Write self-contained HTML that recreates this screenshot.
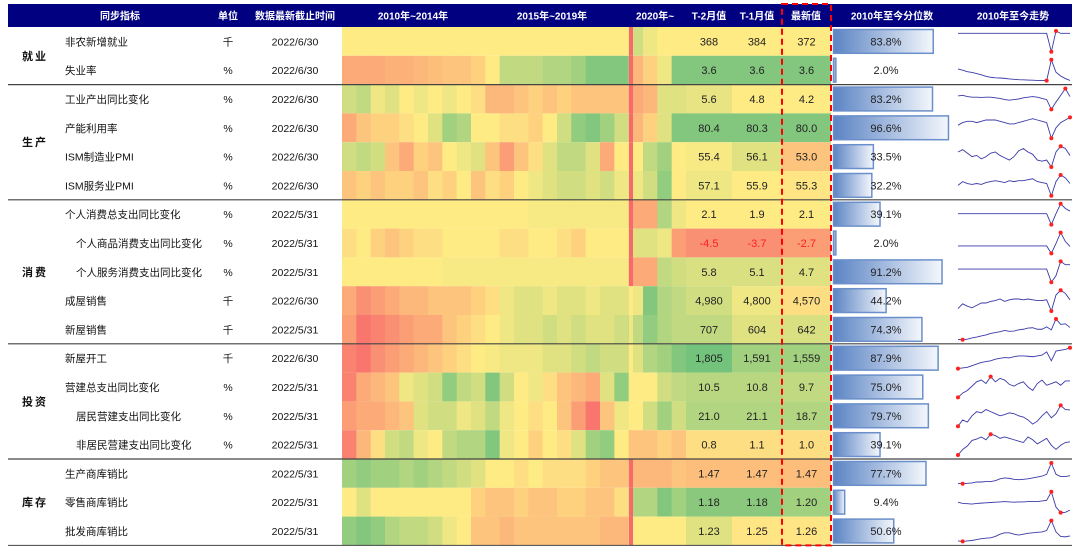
<!DOCTYPE html>
<html><head><meta charset="utf-8">
<style>
body{margin:0;background:#fff;width:1080px;height:550px;overflow:hidden;font-family:"Liberation Sans","Noto Sans CJK SC",sans-serif;}
svg text{font-family:"Liberation Sans","Noto Sans CJK SC",sans-serif;}
</style></head><body>
<svg id="chart" width="1080" height="550" xmlns="http://www.w3.org/2000/svg"></svg>
<script>
const groups=[["就业",0,2],["生产",2,6],["消费",6,11],["投资",11,15],["库存",15,18]];
const names=["非农新增就业","失业率","工业产出同比变化","产能利用率","ISM制造业PMI","ISM服务业PMI","个人消费总支出同比变化","个人商品消费支出同比变化","个人服务消费支出同比变化","成屋销售","新屋销售","新屋开工","营建总支出同比变化","居民营建支出同比变化","非居民营建支出同比变化","生产商库销比","零售商库销比","批发商库销比"];
const indent=[0,0,0,0,0,0,0,1,1,0,0,0,0,1,1,0,0,0];
const units=["千","%","%","%","%","%","%","%","%","千","千","千","%","%","%","","",""];
const dates=["2022/6/30","2022/6/30","2022/6/30","2022/6/30","2022/6/30","2022/6/30","2022/5/31","2022/5/31","2022/5/31","2022/6/30","2022/5/31","2022/6/30","2022/5/31","2022/5/31","2022/5/31","2022/5/31","2022/5/31","2022/5/31"];
const t2=["368","3.6","5.6","80.4","55.4","57.1","2.1","-4.5","5.8","4,980","707","1,805","10.5","21.0","0.8","1.47","1.18","1.23"];
const t1=["384","3.6","4.8","80.3","56.1","55.9","1.9","-3.7","5.1","4,800","604","1,591","10.8","21.1","1.1","1.47","1.18","1.25"];
const latest=["372","3.6","4.2","80.0","53.0","55.3","2.1","-2.7","4.7","4,570","642","1,559","9.7","18.7","1.0","1.47","1.20","1.26"];
const t2c=[0,0.8,0.15,0.8,0.05,0.1,0,-0.7,0.25,0.3,0.4,0.9,0.45,0.5,-0.1,-0.35,0.75,0.2];
const t1c=[0,0.8,0,0.8,0.2,0,0,-0.7,0.25,0.1,0.2,0.6,0.45,0.5,-0.1,-0.35,0.75,-0.05];
const lc=[0,0.8,0,0.8,-0.3,-0.05,0,-0.6,0.2,-0.1,0.25,0.6,0.4,0.5,-0.1,-0.35,0.6,-0.05];
const pct=[83.8,2.0,83.2,96.6,33.5,32.2,39.1,2.0,91.2,44.2,74.3,87.9,75.0,79.7,39.1,77.7,9.4,50.6];
const heat=[
[0,0,0,0,0,0,0,0,0,0,0,0,0,0,0,0,0,0,0,0,0.3,0.1,0,0],
[-0.5,-0.5,-0.5,-0.45,-0.45,-0.4,-0.35,-0.3,-0.3,-0.2,0,0.4,0.4,0.4,0.5,0.5,0.6,0.8,0.8,0.8,-0.4,-0.2,0.1,0.8],
[0.3,0.4,0.1,0.2,0,0.1,0,0.1,0,-0.1,-0.4,-0.4,-0.3,-0.2,-0.3,-0.2,-0.3,-0.3,-0.3,-0.3,-0.5,-0.4,0.2,0.2],
[-0.5,-0.3,-0.2,-0.2,-0.1,0,0.2,0.6,0.5,0,0,-0.1,-0.1,-0.2,0,0.3,0.7,0.8,0.6,0.3,-0.4,-0.2,0.2,0.8],
[0.3,0.4,0.3,-0.3,-0.5,-0.2,-0.3,0,0.1,0.2,-0.3,-0.6,-0.3,-0.1,0.2,0.4,0.4,0.2,-0.5,0,0,0.4,0.6,0],
[-0.3,-0.2,-0.3,-0.2,-0.2,-0.3,-0.1,-0.2,0,-0.3,-0.1,-0.2,0,0.1,0.2,0.3,0.3,0.2,0.3,0.1,0.1,0.3,0.7,0],
[0,0,0,0,0,0,0,0,0,0,0,0,0,0.05,0.05,0.05,0.05,0.05,0.05,0.05,-0.5,-0.5,0.5,0.1],
[-0.1,0,-0.2,-0.3,-0.2,-0.1,-0.1,0,0,0,0,-0.1,-0.1,0,0,-0.1,-0.2,0,0,0,0.2,0.2,0.1,-0.6],
[0,0,0,0,0,0,0,0.05,0.05,0.05,0.05,0.05,0.05,0.05,0.05,0.05,0.05,0.05,0.05,0.05,-0.5,-0.5,0.4,0.3],
[-0.5,-0.7,-0.6,-0.5,-0.4,-0.4,-0.3,-0.3,-0.3,-0.2,-0.1,0.1,0.2,0.2,0.1,0.2,0.2,0.1,0.2,0.2,0.1,0.8,0.5,0.4],
[-0.6,-0.9,-0.8,-0.7,-0.6,-0.5,-0.5,-0.3,-0.2,-0.1,0,0.1,0.2,0.2,0.3,0.2,0.3,0.2,0.2,0.3,0.4,0.7,0.5,0.4],
[-0.8,-0.9,-0.7,-0.6,-0.5,-0.4,-0.3,-0.2,-0.1,0,0.05,0.1,0.1,0.1,0.2,0.2,0.3,0.4,0.3,0.3,0.2,0.5,0.6,0.8],
[-0.8,-0.5,-0.4,-0.3,0.1,0.2,0.3,0.7,0.4,0.3,0.8,0.3,0,0.1,-0.1,-0.3,-0.4,-0.5,0.2,0.7,0,0,0.3,0.4],
[-0.6,-0.5,-0.5,-0.4,-0.3,0.2,0.3,0.3,0.1,0.2,0.4,0.1,0,-0.1,0,-0.3,-0.6,-0.9,-0.3,0.1,0,0.3,0.6,0.3],
[-0.8,-0.4,-0.1,0.3,0.4,0.1,0,0.4,0.5,0.5,0.8,0.1,0,-0.2,0,-0.1,0.2,0.6,0.7,0,-0.3,-0.3,-0.2,-0.3],
[0.6,0.7,0.6,0.6,0.5,0.6,0.5,0.4,0.3,0.2,0,0,-0.1,0,-0.1,-0.1,-0.1,-0.2,-0.3,-0.3,-0.4,-0.4,-0.4,-0.3],
[0,0.2,0,0,0,0,0,0,0,-0.2,-0.3,-0.3,-0.2,-0.3,-0.3,-0.2,-0.2,-0.3,-0.3,-0.1,0.5,0.5,0.8,0.6],
[0.7,0.8,0.7,0.5,0.4,0.4,0.3,0.1,0,-0.3,-0.3,-0.4,-0.3,-0.3,-0.3,-0.3,-0.3,-0.3,-0.4,-0.4,0,0,0,0]];
const spike=[-1,-1,-1,-1,-1,-1,-1,-1,-1,0,0.1,0,0,0,-0.3,-1,-1,-1];
const spark=[
[2,2,2,2,2,2,2,2,2,2,2,2,2,2,2,2,2,2,2,2,-20,4.8,2,2,2],
[9.8,9.1,8.3,7.9,7.3,6.6,5.8,5.3,5.0,4.9,4.7,4.4,4.2,4.0,3.9,3.8,3.7,3.6,3.6,3.5,14.7,8,6,4.6,3.6],
[5,6,4,3,3,2.5,3,3,2,1,-1,-2,-1,0,2,3,4,3,1,-1,-17,-5,6,17,4],
[74,76,77,77,76,77,78,78,78,77,76,75,75,76,77,78,79,78,77,76,64,72,76,78,80],
[56,58,55,52,53,50,52,55,56,53,51,49,52,57,59,56,54,49,48,49,43,56,61,59,53],
[53,57,55,54,55,54,56,57,58,57,56,58,57,58,58,59,60,57,56,55,42,57,64,61,55],
[4,4,4,4,4,4,4,4,4,4,4,4,4,4,4,4,4,4,4,4,-17,4,23,14,9],
[3,3,3,3,3,3,3,3,3,3,3,3,3,3,3,3,3,3,3,3,-12,8,30,12,2],
[4,4,4,4,4,4,4,4,4,4,4,4,4,4,4,4,4,4,4,4,-20,-8,18,12,12],
[4.3,4.9,4.6,4.4,4.7,5.0,5.0,5.2,5.3,5.5,5.2,5.4,5.5,5.5,5.4,5.5,5.4,5.3,5.3,5.4,4.0,6.0,6.6,6.2,5.4],
[300,290,310,350,380,420,450,500,530,560,600,570,580,620,640,680,690,640,640,720,620,980,800,820,700],
[520,560,600,700,800,900,950,1000,1100,1150,1200,1180,1250,1300,1300,1280,1250,1300,1350,1550,1000,1600,1650,1700,1800],
[-10,-5,-2,3,8,10,6,14,8,12,10,5,3,6,8,2,-2,6,10,4,6,8,4,9,9],
[-20,-5,-10,5,15,12,20,15,10,5,8,12,10,5,2,-5,-15,-8,5,15,0,10,30,20,19],
[-18,-10,-5,3,5,8,4,12,10,6,8,6,4,2,0,8,4,-2,2,6,-4,-10,-4,0,1],
[1.3,1.29,1.3,1.31,1.33,1.33,1.34,1.34,1.36,1.4,1.42,1.41,1.39,1.38,1.39,1.4,1.42,1.44,1.46,1.5,1.75,1.5,1.45,1.45,1.47],
[1.46,1.42,1.41,1.40,1.42,1.43,1.44,1.45,1.46,1.47,1.48,1.47,1.46,1.47,1.47,1.48,1.48,1.48,1.50,1.52,1.80,1.30,1.12,1.13,1.20],
[1.15,1.14,1.15,1.16,1.18,1.20,1.21,1.22,1.25,1.30,1.33,1.33,1.30,1.28,1.30,1.32,1.33,1.34,1.35,1.38,1.60,1.35,1.25,1.24,1.26]];
const headers=[["同步指标",120],["单位",228],["数据最新截止时间",295],["2010年~2014年",413],["2015年~2019年",552],["2020年~",655],["T-2月值",709],["T-1月值",757],["最新值",806],["2010年至今分位数",892],["2010年至今走势",1013]];

const NS="http://www.w3.org/2000/svg";
const svg=document.getElementById('chart');
function mk(tag,attrs,parent){const e=document.createElementNS(NS,tag);for(const k in attrs)e.setAttribute(k,attrs[k]);(parent||svg).appendChild(e);return e;}
const ROW0=27,RH=28.8;
const rowY=i=>ROW0+i*RH;
const HX0=342,HX1=686,SEGW=(HX1-HX0)/24;
const heatX=j=>HX0+j*SEGW;
const spikeX=629;
function color(v){
  const R=[248,105,107],Y=[255,235,132],G=[99,190,123];
  let a,b,t;if(v<0){a=Y;b=R;t=-v;}else{a=Y;b=G;t=v;}
  t=Math.min(1,t);
  return `rgb(${a.map((c,k)=>Math.round(c+(b[k]-c)*t)).join(',')})`;
}
const defs=mk('defs',{});
const lg=mk('linearGradient',{id:'barg',x1:0,y1:0,x2:1,y2:0},defs);
mk('stop',{offset:'0','stop-color':'#5b84c4'},lg);mk('stop',{offset:'1','stop-color':'#f4f7fc'},lg);

// header
const hb=mk('rect',{x:8,y:4,width:1064,height:23,fill:'#000080'});

headers.forEach(h=>{const t=mk('text',{x:h[1],y:19.5,'text-anchor':'middle','font-size':10,'font-weight':'bold',fill:'#fff'});t.textContent=h[0];
});

const cols=[[686,732,t2,t2c],[732,782,t1,t1c],[782,831,latest,lc]];
names.forEach((n,i)=>{
  const y=rowY(i),g=mk('g',{});
  
  heat[i].forEach((v,j)=>{const r=mk('rect',{x:heatX(j),y:y,width:SEGW+0.6,height:RH,fill:color(v)},g);
    });
  const s=mk('rect',{x:spikeX,y:y,width:4,height:RH,fill:color(spike[i])},g);
  
  cols.forEach(c=>{const r=mk('rect',{x:c[0],y:y,width:c[1]-c[0],height:RH,fill:color(c[3][i])},g);
    
    const t=mk('text',{x:(c[0]+c[1])/2,y:y+RH/2+4,'text-anchor':'middle','font-size':11,fill:c[2][i].startsWith('-')?'#ff2020':'#222'},g);t.textContent=c[2][i];
    });
  const nt=mk('text',{x:indent[i]?76:65,y:y+RH/2+4,'font-size':10.5,fill:'#111'},g);nt.textContent=n;
  
  const ut=mk('text',{x:228,y:y+RH/2+4,'text-anchor':'middle','font-size':10.5,fill:'#111'},g);ut.textContent=units[i];
  
  const dt=mk('text',{x:295,y:y+RH/2+4,'text-anchor':'middle','font-size':10.5,fill:'#111'},g);dt.textContent=dates[i];
  
  const bw=pct[i]/100*119;
  const b=mk('rect',{x:833.5,y:y+2.5,width:bw,height:RH-5,fill:'url(#barg)',stroke:'#6b8fca','stroke-width':1.5},g);
  
  const pt=mk('text',{x:886,y:y+RH/2+4,'text-anchor':'middle','font-size':11,fill:'#222'},g);pt.textContent=pct[i].toFixed(1)+'%';
  
  // sparkline
  const d=spark[i],mn=Math.min(...d),mx=Math.max(...d);
  const sx=k=>958+k*(1070-958)/(d.length-1), sy=v=>y+RH-4-(v-mn)/(mx-mn||1)*(RH-8);
  const p=mk('polyline',{points:d.map((v,k)=>sx(k)+','+sy(v)).join(' '),fill:'none',stroke:'#3a3aa8','stroke-width':0.9},g);
  
  [d.indexOf(mn),d.indexOf(mx)].forEach(k=>{const c=mk('circle',{cx:sx(k),cy:sy(d[k]),r:2,fill:'#ff2020'},g);
    });
});
groups.forEach(gr=>{
  const yc=(rowY(gr[1])+rowY(gr[2]))/2;
  const t=mk('text',{x:35,y:yc+4,'text-anchor':'middle','font-size':11,'font-weight':'bold',fill:'#111','letter-spacing':2});t.textContent=gr[0];
  
  if(gr[2]<18){const l=mk('line',{x1:8,x2:1072,y1:rowY(gr[2]),y2:rowY(gr[2]),stroke:'#444','stroke-width':1.2});
    }
});
const bl=mk('line',{x1:8,x2:1072,y1:rowY(18),y2:rowY(18),stroke:'#444','stroke-width':1});

const box=mk('rect',{x:782,y:4,width:49,height:rowY(18)-4,fill:'none',stroke:'#ff0000','stroke-width':2,'stroke-dasharray':'6,4'});

</script>
</body></html>
